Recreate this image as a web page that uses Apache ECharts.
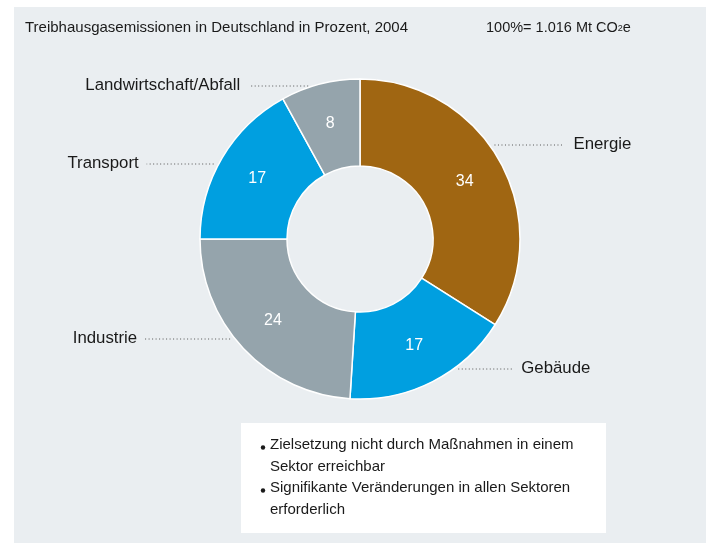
<!DOCTYPE html>
<html><head><meta charset="utf-8">
<script src="https://cdn.jsdelivr.net/npm/echarts@6/dist/echarts.min.js"></script>
<style>html,body{margin:0;padding:0;background:#fff}#c{width:706px;height:543px}</style>
</head><body><div id="c"></div>
<script>
// Data
const categories = ['Energie', 'Gebäude', 'Industrie', 'Transport', 'Landwirtschaft/Abfall'];
const values = [34, 17, 24, 17, 8];
const colors = ['#a06612', '#009fe0', '#95a4ac', '#009fe0', '#95a4ac'];
const titleText = 'Treibhausgasemissionen in Deutschland in Prozent, 2004';
const totalText = '100%= 1.016 Mt CO';
const bullets = [
  ['Zielsetzung nicht durch Maßnahmen in einem', 'Sektor erreichbar'],
  ['Signifikante Veränderungen in allen Sektoren', 'erforderlich']
];

// Label placement (styling, not data)
const labelLineY = [145, 369, 339, 164, 86];
const labelSide = [1, 1, -1, -1, -1];
const lineLen = [70, 54, 86, 67, 59];
const textGap = [9, 9, 7, 8, 9];

const CX = 360, CY = 239, R_IN = 73, R_OUT = 160;
const FONT = '"Liberation Sans", Arial, sans-serif';
const TXT = '#1a1a1a';

const chart = echarts.init(document.getElementById('c'), null, {renderer: 'canvas'});
const pieData = categories.map((n, i) => ({name: n, value: values[i], itemStyle: {color: colors[i]}}));

const bulletGraphics = [];
let ly = 446.5;
bullets.forEach(b => {
  b.forEach((line, j) => {
    bulletGraphics.push({
      type: 'text', left: 270, top: ly - 9,
      style: {text: line, font: '15px ' + FONT, fill: TXT}
    });
    if (j === 0) {
      bulletGraphics.push({
        type: 'circle', shape: {cx: 263, cy: ly + 1, r: 2.2}, style: {fill: TXT}
      });
    }
    ly += 21.5;
  });
});

chart.setOption({
  backgroundColor: '#ffffff',
  animation: false,
  graphic: [
    {type: 'rect', shape: {x: 14, y: 7, width: 700, height: 540}, style: {fill: '#eaeef1'}, z: -10},
    {type: 'rect', shape: {x: 241, y: 423, width: 365, height: 110}, style: {fill: '#ffffff'}, z: 1},
    {type: 'text', left: 25, top: 20, style: {text: titleText, font: '15px ' + FONT, fill: TXT}},
    {type: 'text', left: 486, top: 20, style: {
      text: totalText + '{s|2}e', font: '14.5px ' + FONT, fill: TXT,
      rich: {s: {fontSize: 9, fontFamily: 'Liberation Sans', fill: TXT, padding: [3, 0, 0, 0]}}
    }},
    ...bulletGraphics.map(g => Object.assign(g, {z: 2}))
  ],
  series: [
    {
      type: 'pie',
      center: [CX, CY],
      radius: [R_IN, R_OUT],
      startAngle: 90,
      clockwise: true,
      silent: true,
      data: pieData,
      itemStyle: {borderColor: '#ffffff', borderWidth: 1.5},
      label: {show: true, position: 'inside', formatter: '{c}', color: '#ffffff', fontSize: 16, fontFamily: 'Liberation Sans'},
      labelLine: {show: false}
    },
    {
      type: 'pie',
      center: [CX, CY],
      radius: [R_IN, R_OUT],
      startAngle: 90,
      clockwise: true,
      silent: true,
      data: pieData.map(d => ({name: d.name, value: d.value})),
      itemStyle: {color: 'rgba(0,0,0,0)', borderWidth: 0},
      label: {show: true, position: 'outside', formatter: '{b}', color: TXT, fontSize: 16.8, fontFamily: 'Liberation Sans'},
      labelLine: {show: true, length: 5, length2: 50, lineStyle: {color: '#555', width: 1, type: [1, 2.5]}},
      labelLayout: function (p) {
        const i = p.dataIndex;
        const s = labelSide[i];
        const y = labelLineY[i];
        const dy = y - CY;
        const edge = CX + s * Math.sqrt(R_OUT * R_OUT - dy * dy);
        const x0 = edge + s * 5;
        const x1 = x0 + s * lineLen[i];
        return {
          x: x1 + s * textGap[i], y: y - 0.5,
          align: s > 0 ? 'left' : 'right', verticalAlign: 'middle',
          labelLinePoints: [[x0, y], [x1, y], [x1, y]]
        };
      }
    }
  ]
});
</script></body></html>
